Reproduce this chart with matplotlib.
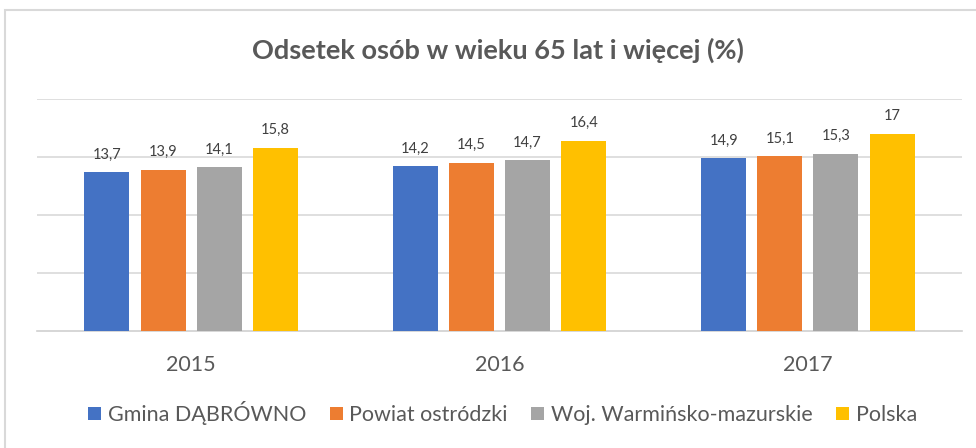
import matplotlib.pyplot as plt
import numpy as np
from matplotlib.patches import Rectangle

years = ['2015', '2016', '2017']
series = ['Gmina DĄBRÓWNO', 'Powiat ostródzki', 'Woj. Warmińsko-mazurskie', 'Polska']
values = [
    [13.7, 14.2, 14.9],
    [13.9, 14.5, 15.1],
    [14.1, 14.7, 15.3],
    [15.8, 16.4, 17.0],
]
labels = [
    ['13,7', '14,2', '14,9'],
    ['13,9', '14,5', '15,1'],
    ['14,1', '14,7', '15,3'],
    ['15,8', '16,4', '17'],
]
colors = ['#4472C4', '#ED7D31', '#A5A5A5', '#FFC000']

plt.rcParams['font.family'] = ['Lato', 'DejaVu Sans']
txt = '#595959'

fig = plt.figure(figsize=(9.76, 4.48), dpi=100)
fig.patches.append(Rectangle((5 / 976, -0.1), 1.2, (448 - 10) / 448 + 0.1,
                             transform=fig.transFigure, fill=False,
                             edgecolor='#D9D9D9', linewidth=1.5))
ax = fig.add_axes([37 / 976, (448 - 331) / 448, 925 / 976, 232 / 448])

x = np.arange(len(years))
width = 0.146
step = 0.182
for i, (name, vals) in enumerate(zip(series, values)):
    pos = x + (i - 1.5) * step
    bars = ax.bar(pos, vals, width, color=colors[i], label=name, zorder=3)
    for b, lab in zip(bars, labels[i]):
        ax.text(b.get_x() + b.get_width() / 2, b.get_height() + 0.9, lab,
                ha='center', va='bottom', fontsize=10.5, color='#404040')

ax.set_xlim(-0.5, 2.5)
ax.set_ylim(0, 20)
ax.set_yticks([5, 10, 15, 20])
ax.yaxis.grid(True, color='#D9D9D9', linewidth=1.2, zorder=0)
ax.tick_params(left=False, labelleft=False, bottom=False)
ax.set_xticks(x)
ax.set_xticklabels(years, fontsize=15.5, color=txt)
ax.tick_params(axis='x', pad=14)
for s in ['top', 'right', 'left']:
    ax.spines[s].set_visible(False)
ax.spines['bottom'].set_color('#D0D0D0')
ax.spines['bottom'].set_linewidth(1.2)

fig.text(0.51, 0.888, 'Odsetek osób w wieku 65 lat i więcej (%)', ha='center',
         va='center', fontsize=19.5, fontweight='bold', color=txt)

fig.legend(loc='center', bbox_to_anchor=(0.515, 0.078), ncol=4, frameon=False,
           fontsize=15.5, handlelength=0.6, handleheight=0.6, handletextpad=0.3,
           columnspacing=1.1, labelcolor=txt)

fig.savefig('out.png', dpi=100)
